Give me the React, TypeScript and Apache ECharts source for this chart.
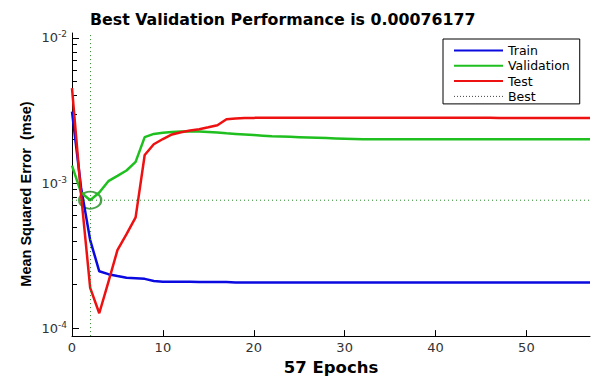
import React, { useEffect, useRef } from "react";
import * as echarts from "echarts";

const titleText = "Best Validation Performance is 0.00076177";
const xAxisName = "57 Epochs";
const yAxisName = "Mean Squared Error  (mse)";
const seriesNames = ["Train", "Validation", "Test", "Best"];

const epochs = [
  0, 1, 2, 3, 4, 5, 6, 7, 8, 9, 10, 11, 12, 13, 14, 15, 16, 17, 18, 19, 20,
  21, 22, 23, 24, 25, 26, 27, 28, 29, 30, 31, 32, 33, 34, 35, 36, 37, 38, 39,
  40, 41, 42, 43, 44, 45, 46, 47, 48, 49, 50, 51, 52, 53, 54, 55, 56, 57,
];

const trainMse = [
  3.1e-3, 9.3e-4, 4.05e-4, 2.47e-4, 2.36e-4, 2.29e-4, 2.23e-4, 2.21e-4, 2.19e-4,
  2.12e-4, 2.09e-4, 2.09e-4, 2.09e-4, 2.09e-4, 2.08e-4, 2.08e-4, 2.08e-4, 2.08e-4,
  2.07e-4, 2.07e-4, 2.07e-4, 2.07e-4, 2.07e-4, 2.07e-4, 2.07e-4, 2.07e-4, 2.07e-4,
  2.07e-4, 2.07e-4, 2.07e-4, 2.07e-4, 2.07e-4, 2.07e-4, 2.07e-4, 2.07e-4, 2.07e-4,
  2.07e-4, 2.07e-4, 2.07e-4, 2.07e-4, 2.07e-4, 2.07e-4, 2.07e-4, 2.07e-4, 2.07e-4,
  2.07e-4, 2.07e-4, 2.07e-4, 2.07e-4, 2.07e-4, 2.07e-4, 2.07e-4, 2.07e-4, 2.07e-4,
  2.07e-4, 2.07e-4, 2.07e-4, 2.07e-4,
];

const validationMse = [
  1.32e-3, 8.6e-4, 7.6177e-4, 8.6e-4, 1.03e-3, 1.12e-3, 1.22e-3, 1.4e-3, 2.07e-3,
  2.18e-3, 2.22e-3, 2.25e-3, 2.26e-3, 2.26e-3, 2.26e-3, 2.25e-3, 2.23e-3, 2.2e-3,
  2.18e-3, 2.16e-3, 2.14e-3, 2.12e-3, 2.1e-3, 2.09e-3, 2.08e-3, 2.07e-3, 2.06e-3,
  2.05e-3, 2.04e-3, 2.03e-3, 2.02e-3, 2.01e-3, 2.0e-3, 2.0e-3, 2.0e-3, 2.0e-3,
  2.0e-3, 2.0e-3, 2.0e-3, 2.0e-3, 2.0e-3, 2.0e-3, 2.0e-3, 2.0e-3, 2.0e-3, 2.0e-3,
  2.0e-3, 2.0e-3, 2.0e-3, 2.0e-3, 2.0e-3, 2.0e-3, 2.0e-3, 2.0e-3, 2.0e-3, 2.0e-3,
  2.0e-3, 2.0e-3,
];

const testMse = [
  4.5e-3, 8.3e-4, 1.9e-4, 1.27e-4, 2.08e-4, 3.45e-4, 4.45e-4, 5.8e-4, 1.56e-3,
  1.85e-3, 2.01e-3, 2.16e-3, 2.24e-3, 2.3e-3, 2.35e-3, 2.42e-3, 2.5e-3, 2.75e-3,
  2.78e-3, 2.8e-3, 2.81e-3, 2.82e-3, 2.82e-3, 2.82e-3, 2.82e-3, 2.82e-3, 2.82e-3,
  2.82e-3, 2.82e-3, 2.82e-3, 2.82e-3, 2.82e-3, 2.82e-3, 2.82e-3, 2.82e-3, 2.82e-3,
  2.82e-3, 2.82e-3, 2.82e-3, 2.82e-3, 2.82e-3, 2.82e-3, 2.82e-3, 2.82e-3, 2.82e-3,
  2.82e-3, 2.82e-3, 2.8e-3, 2.8e-3, 2.8e-3, 2.8e-3, 2.8e-3, 2.8e-3, 2.8e-3, 2.8e-3,
  2.8e-3, 2.8e-3, 2.8e-3,
];

const bestEpoch = 2;
const bestMse = 0.00076177;

const xTicks = [0, 10, 20, 30, 40, 50];
const yMajorMse = [1e-4, 1e-3, 1e-2];
const yMinorMse = [
  2e-4, 3e-4, 4e-4, 5e-4, 6e-4, 7e-4, 8e-4, 9e-4,
  2e-3, 3e-3, 4e-3, 5e-3, 6e-3, 7e-3, 8e-3, 9e-3,
];
const xRange = [0, 57];
const yRangeMse = [8.84e-5, 1.079e-2];

const FONT = "DejaVu Sans";
const lg = (v: number) => Math.log10(v);
const toPts = (arr: number[]) => epochs.map((e, i) => [e, lg(arr[i])]);

export default function App() {
  const ref = useRef<HTMLDivElement>(null);
  useEffect(() => {
    if (!ref.current) return;
    const chart = echarts.init(ref.current, undefined, { renderer: "svg" });
    const yMin = lg(yRangeMse[0]);
    const yMax = lg(yRangeMse[1]);
    const axisColor = "#000";
    chart.setOption({
      animation: false,
      backgroundColor: "#fff",
      title: {
        text: titleText,
        left: 90,
        top: 11,
        padding: 0,
        textStyle: { fontFamily: FONT, fontSize: 15.8, fontWeight: "bold", color: "#000" },
      },
      graphic: [
        {
          type: "text",
          x: 26,
          y: 194,
          rotation: Math.PI / 2,
          style: {
            text: yAxisName,
            font: "bold 14.5px 'Liberation Sans', Arial, sans-serif",
            fill: "#000",
            align: "center",
            verticalAlign: "middle",
          },
        },
      ],
      grid: { left: 72, right: 2, top: 33, bottom: 35 },
      legend: {
        orient: "vertical",
        left: 443,
        top: 39,
        padding: [5, 10, 1, 10],
        itemGap: 2.3,
        itemWidth: 49,
        itemHeight: 14,
        borderColor: "#000",
        borderWidth: 1,
        backgroundColor: "#fff",
        selectedMode: false,
        itemStyle: { opacity: 0, borderWidth: 0 },
        textStyle: { fontFamily: FONT, fontSize: 12.5, color: "#000" },
        data: [
          { name: seriesNames[0] },
          { name: seriesNames[1] },
          { name: seriesNames[2] },
          { name: seriesNames[3], lineStyle: { color: "#444", type: [1, 2], width: 1 } },
        ],
      },
      xAxis: {
        type: "value",
        min: xRange[0],
        max: xRange[1],
        axisLine: { onZero: false, lineStyle: { color: axisColor, width: 1 } },
        axisTick: {
          show: true,
          inside: true,
          length: 6,
          customValues: xTicks,
          lineStyle: { color: axisColor, width: 1 },
        },
        axisLabel: {
          customValues: xTicks,
          margin: 5,
          fontFamily: FONT,
          fontSize: 13,
          color: "#333",
        },
        splitLine: { show: false },
        name: xAxisName,
        nameLocation: "middle",
        nameGap: 22,
        nameTextStyle: { fontFamily: FONT, fontSize: 16.5, fontWeight: "bold", color: "#000" },
      },
      yAxis: [
        {
          type: "value",
          min: yMin,
          max: yMax,
          position: "left",
          splitLine: { show: false },
          axisLine: { show: true, onZero: false, lineStyle: { color: axisColor, width: 1 } },
          axisTick: {
            show: true,
            inside: true,
            length: 7,
            customValues: yMajorMse.map(lg),
            lineStyle: { color: axisColor, width: 1 },
          },
          axisLabel: {
            customValues: yMajorMse.map(lg),
            margin: 5,
            formatter: (v: number) => `{b|10}{s|${Math.round(v)}}`,
            rich: {
              b: { fontFamily: FONT, fontSize: 13, color: "#333", lineHeight: 16 },
              s: { fontFamily: FONT, fontSize: 9, color: "#333", verticalAlign: "top", lineHeight: 16, padding: [0, 0, 6, 0] },
            },
          },
        },
        {
          type: "value",
          min: yMin,
          max: yMax,
          position: "left",
          offset: 0,
          splitLine: { show: false },
          axisLine: { show: false },
          axisLabel: { show: false },
          axisTick: {
            show: true,
            inside: true,
            length: 5,
            customValues: yMinorMse.map(lg),
            lineStyle: { color: axisColor, width: 1 },
          },
        },
      ],
      series: [
        {
          name: seriesNames[0],
          type: "line",
          data: toPts(trainMse),
          showSymbol: false,
          symbol: "none",
          lineStyle: { color: "#0a0ae0", width: 2.5 },
          itemStyle: { color: "#0a0ae0" },
        },
        {
          name: seriesNames[1],
          type: "line",
          data: toPts(validationMse),
          showSymbol: false,
          symbol: "none",
          lineStyle: { color: "#1fbf1f", width: 2.5 },
          itemStyle: { color: "#1fbf1f" },
        },
        {
          name: seriesNames[2],
          type: "line",
          data: toPts(testMse),
          showSymbol: false,
          symbol: "none",
          lineStyle: { color: "#ee1111", width: 2.5 },
          itemStyle: { color: "#ee1111" },
        },
        {
          name: seriesNames[3],
          type: "line",
          data: [
            [xRange[0], lg(bestMse)],
            [xRange[1], lg(bestMse)],
          ],
          showSymbol: false,
          symbol: "none",
          lineStyle: { color: "#2a8a2a", width: 1, type: [1, 3] },
          itemStyle: { color: "#2a8a2a" },
          markLine: {
            silent: true,
            symbol: "none",
            label: { show: false },
            lineStyle: { color: "#2a8a2a", width: 1, type: [1, 3] },
            data: [{ xAxis: bestEpoch }],
          },
        },
        {
          name: "bestPoint",
          type: "scatter",
          data: [[bestEpoch, lg(bestMse)]],
          symbol: "circle",
          symbolSize: [22, 17],
          itemStyle: { color: "transparent", borderColor: "#1e8c1e", borderWidth: 2 },
          silent: true,
        },
      ],
    });
    return () => chart.dispose();
  }, []);
  return <div ref={ref} style={{ width: 592, height: 381, position: "absolute", left: 0, top: 0 }} />;
}
